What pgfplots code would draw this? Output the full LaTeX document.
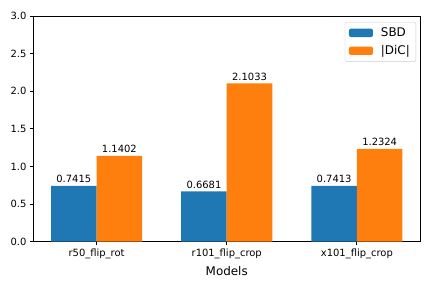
\documentclass[border=0pt]{standalone}
\usepackage{fontspec}
\setmainfont{DejaVu Sans}
\usepackage{pgfplots}
\pgfplotsset{compat=1.18}
\definecolor{mplblue}{HTML}{1F77B4}
\definecolor{mplorange}{HTML}{FF7F0E}
\begin{document}
\begin{tikzpicture}
\begin{axis}[
  scale only axis,
  width=387bp, height=226bp,
  xmin=-0.485, xmax=2.485,
  ymin=0, ymax=3,
  ybar,
  bar width=0.35,
  xtick={0,1,2},
  xticklabels={r50\_flip\_rot, r101\_flip\_crop, x101\_flip\_crop},
  ytick={0,0.5,1,1.5,2,2.5,3},
  yticklabel style={/pgf/number format/.cd, fixed, fixed zerofill, precision=1},
  /pgf/number format/assume math mode=true,
  tick label style={font=\fontsize{10}{12}\selectfont},
  xtick pos=bottom, ytick pos=left,
  tick align=outside,
  major tick length=3.5bp,
  tick style={black, line width=0.8bp},
  axis line style={line width=0.8bp},
  xlabel={Models},
  xlabel style={font=\fontsize{12}{14}\selectfont, inner sep=0pt, yshift=-4bp},
  nodes near coords,
  nodes near coords style={font=\fontsize{10}{12}\selectfont, /pgf/number format/.cd, fixed, fixed zerofill, precision=4, /tikz/.cd, inner sep=1bp, yshift=2bp},
  legend style={at={(1,1)}, xshift=-4bp, yshift=-6bp, anchor=north east, draw=black!20, rounded corners=2bp, font=\fontsize{12}{15}\selectfont, row sep=3.5bp, inner xsep=4bp, inner ysep=3.5bp,
    /tikz/every odd column/.append style={column sep=6bp}},
  legend cell align=left,
  legend image code/.code={\fill[#1] (0bp,-4.2bp) rectangle (24bp,4.2bp);},
]
\addplot[fill=mplblue, draw=none, bar shift=-0.175] coordinates {(0,0.7415) (1,0.6681) (2,0.7413)};
\addlegendentry{SBD}
\addplot[fill=mplorange, draw=none, bar shift=0.175] coordinates {(0,1.1402) (1,2.1033) (2,1.2324)};
\addlegendentry{|DiC|}
\end{axis}
\path ([xshift=-33.5bp,yshift=-46bp]current axis.south west) rectangle ([xshift=12bp,yshift=16bp]current axis.north east);
\end{tikzpicture}
\end{document}
